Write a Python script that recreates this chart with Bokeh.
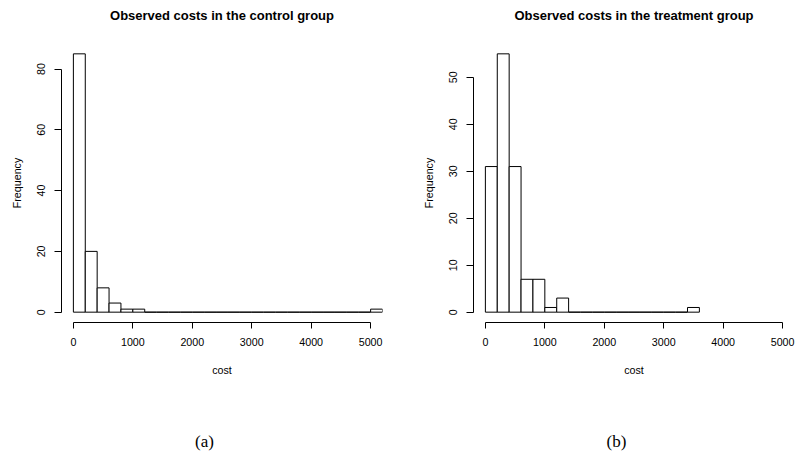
from bokeh.plotting import figure
from bokeh.layouts import row, column
from bokeh.models import Label, FixedTicker, Range1d, ColumnDataSource
from bokeh.embed import file_html
from bokeh.resources import INLINE

# ---- data ----
control_edges = [0, 200, 400, 600, 800, 1000, 1200, 1400, 1600, 1800, 2000, 2200, 2400,
                 2600, 2800, 3000, 3200, 3400, 3600, 3800, 4000, 4200, 4400, 4600, 4800,
                 5000, 5200]
control_counts = [85, 20, 8, 3, 1, 1, 0, 0, 0, 0, 0, 0, 0,
                  0, 0, 0, 0, 0, 0, 0, 0, 0, 0, 0, 0, 1]

treatment_edges = [0, 200, 400, 600, 800, 1000, 1200, 1400, 1600, 1800, 2000, 2200,
                   2400, 2600, 2800, 3000, 3200, 3400, 3600]
treatment_counts = [31, 55, 31, 7, 7, 1, 3, 0, 0, 0, 0, 0, 0, 0, 0, 0, 0, 1]

x_ticks = [0, 1000, 2000, 3000, 4000, 5000]
control_y_ticks = [0, 20, 40, 60, 80]
treatment_y_ticks = [0, 10, 20, 30, 40, 50]

titles = ["Observed costs in the control group", "Observed costs in the treatment group"]
captions = ["(a)", "(b)"]
x_label = "cost"
y_label = "Frequency"

SANS = "Liberation Sans"
SERIF = "Liberation Serif"

W = 795
TOP_H = 43
FRAME_W = 321
FRAME_H = 279
HIST_BOTTOM = 70
CAP_H = 455 - TOP_H - FRAME_H - HIST_BOTTOM


def strip(height):
    s = figure(output_backend="svg", toolbar_location=None, title_location=None,
               frame_width=W, frame_height=height, min_border=0,
               x_range=Range1d(0, W), y_range=Range1d(0, height),
               x_axis_type=None, y_axis_type=None)
    s.outline_line_color = None
    s.xgrid.visible = False
    s.ygrid.visible = False
    s.background_fill_color = "white"
    s.border_fill_color = "white"
    return s


def make_hist(edges, counts, yticks, ymax, border_right):
    p = figure(output_backend="svg", toolbar_location=None, title_location=None,
               frame_width=FRAME_W, frame_height=FRAME_H,
               min_border_left=61, min_border_right=border_right,
               min_border_top=0, min_border_bottom=HIST_BOTTOM,
               x_range=Range1d(-200, 5200),
               y_range=Range1d(-0.04 * ymax, ymax * 1.04))
    src = ColumnDataSource(dict(left=edges[:-1], right=edges[1:],
                                top=counts, bottom=[0] * len(counts)))
    p.quad(left="left", right="right", top="top", bottom="bottom", source=src,
           fill_color="white", line_color="black", line_width=1)

    p.outline_line_color = None
    p.xgrid.visible = False
    p.ygrid.visible = False
    p.background_fill_color = "white"
    p.border_fill_color = "white"

    for ax in (p.xaxis[0], p.yaxis[0]):
        ax.axis_line_color = "black"
        ax.major_tick_line_color = "black"
        ax.minor_tick_line_color = None
        ax.major_tick_in = 0
        ax.major_tick_out = 7
        ax.major_label_text_font = SANS
        ax.major_label_text_font_size = "10.7px"
        ax.major_label_text_color = "black"
        ax.axis_label_text_font = SANS
        ax.axis_label_text_font_size = "10.7px"
        ax.axis_label_text_font_style = "normal"
        ax.axis_label_text_color = "black"

    xa = p.xaxis[0]
    xa.ticker = FixedTicker(ticks=x_ticks)
    xa.bounds = (0, 5000)
    xa.axis_label = x_label
    xa.major_tick_out = 6
    xa.major_label_standoff = 9
    xa.axis_label_standoff = 15

    ya = p.yaxis[0]
    ya.ticker = FixedTicker(ticks=yticks)
    ya.bounds = (yticks[0], yticks[-1])
    ya.axis_label = y_label
    ya.major_label_orientation = "vertical"
    ya.major_label_standoff = 9
    ya.axis_label_standoff = 12
    return p


p1 = make_hist(control_edges, control_counts, control_y_ticks, 85, 30)
p2 = make_hist(treatment_edges, treatment_counts, treatment_y_ticks, 55, 1)

# titles strip (centred over each plot frame)
top = strip(TOP_H)
for cx, t in zip([221.5, 633.5], titles):
    top.add_layout(Label(x=cx, y=TOP_H - 15, text=t, text_font=SANS,
                         text_font_size="13px", text_font_style="bold",
                         text_color="black", text_align="center",
                         text_baseline="middle"))

# sub-figure captions strip
bottom = strip(CAP_H)
for cx, c in zip([204, 616], captions):
    bottom.add_layout(Label(x=cx, y=CAP_H - (441 - (TOP_H + FRAME_H + HIST_BOTTOM)),
                            text=c, text_font=SERIF, text_font_size="17px",
                            text_color="black", text_align="center",
                            text_baseline="middle"))

layout = column(top, row(p1, p2, spacing=0), bottom, spacing=0)
open("out.html", "w").write(file_html(layout, INLINE))
